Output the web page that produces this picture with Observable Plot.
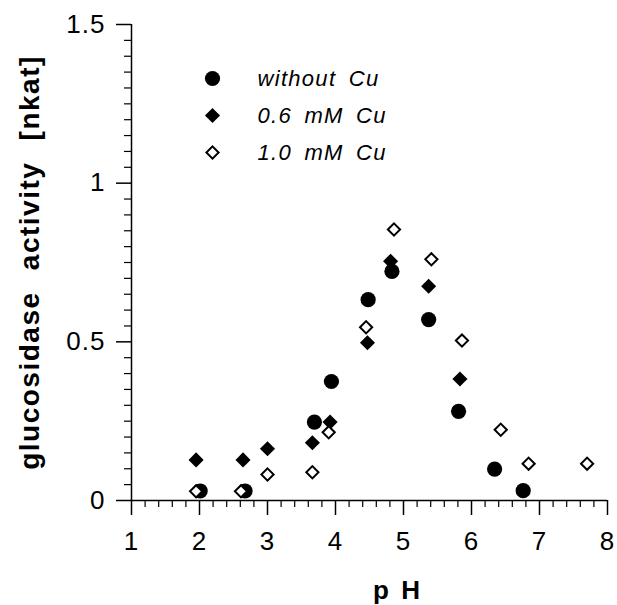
<!DOCTYPE html>
<html>
<head>
<meta charset="utf-8">
<script src="https://cdn.jsdelivr.net/npm/d3@7"></script>
<script src="https://cdn.jsdelivr.net/npm/@observablehq/plot@0.6"></script>
<style>
  html, body { margin: 0; padding: 0; background: #fff; }
  #chart svg { display: block; }
  #chart g[aria-label="x-axis tick label"] text,
  #chart g[aria-label="y-axis tick label"] text { letter-spacing: 1px; }
</style>
</head>
<body>
<div id="chart"></div>
<script>
// ---- data ----
const seriesNames = ["without Cu", "0.6 mM Cu", "1.0 mM Cu"];

const phNoCu  = [2.01, 2.67, 3.69, 3.94, 4.48, 4.83, 5.37, 5.81, 6.34, 6.76];
const actNoCu = [0.030, 0.030, 0.247, 0.375, 0.633, 0.722, 0.570, 0.281, 0.099, 0.031];

const ph06  = [1.95, 2.64, 3.00, 3.66, 3.92, 4.47, 4.81, 5.37, 5.83];
const act06 = [0.128, 0.128, 0.163, 0.182, 0.247, 0.497, 0.754, 0.675, 0.383];

const ph10  = [1.95, 2.61, 3.00, 3.66, 3.90, 4.45, 4.86, 5.41, 5.86, 6.43, 6.84, 7.70];
const act10 = [0.029, 0.029, 0.082, 0.089, 0.215, 0.546, 0.854, 0.760, 0.504, 0.223, 0.116, 0.116];

const xTicks = [1, 2, 3, 4, 5, 6, 7, 8];
const xTickLabels = ["1", "2", "3", "4", "5", "6", "7", "8"];
const yTicks = [0, 0.5, 1, 1.5];
const yTickLabels = ["0", "0.5", "1", "1.5"];

const xTitle = "p H";
const yTitle = "glucosidase activity [nkat]";

// ---- build ----
const zip = (xs, ys) => xs.map((x, i) => ({x, y: ys[i]}));
const dNoCu = zip(phNoCu, actNoCu);
const d06 = zip(ph06, act06);
const d10 = zip(ph10, act10);

const xMinor = d3.range(1, 8.0001, 0.2).map(v => +v.toFixed(2)).filter(v => Math.abs(v - Math.round(v)) > 1e-6);
const yMinor = d3.range(0, 1.5001, 0.05).map(v => +v.toFixed(2)).filter(v => Math.abs(v * 2 - Math.round(v * 2)) > 1e-6);

const font = "'Liberation Sans', Arial, Helvetica, sans-serif";

const symbolStyles = [
  {symbol: "circle", r: 7.6, fill: "black", stroke: "none", strokeWidth: 0},
  {symbol: "diamond2", r: 6.8, fill: "black", stroke: "none", strokeWidth: 0},
  {symbol: "diamond2", r: 5.5, fill: "white", stroke: "black", strokeWidth: 2}
];

const legendMarks = seriesNames.flatMap((name, i) => [
  Plot.dot([name], {frameAnchor: "top-left", dx: 81, dy: 54 + i * 37, ...symbolStyles[i]}),
  Plot.text([name], {frameAnchor: "top-left", dx: 126, dy: 54 + i * 37, text: d => d,
    textAnchor: "start", lineAnchor: "middle", fontSize: 22, fontStyle: "italic", fill: "black"})
]);

const chart = Plot.plot({
  width: 617,
  height: 605,
  marginLeft: 131,
  marginRight: 10,
  marginTop: 24,
  marginBottom: 105,
  style: {fontFamily: font, background: "white", color: "black", overflow: "visible"},
  x: {domain: [1, 8]},
  y: {domain: [0, 1.5]},
  marks: [
    // minor ticks
    Plot.axisX({ticks: xMinor, tickSize: 7, tickFormat: () => "", strokeWidth: 1.2, label: null}),
    Plot.axisY({ticks: yMinor, tickSize: 7, tickFormat: () => "", strokeWidth: 1.2, label: null}),
    // major ticks with labels
    Plot.axisX({ticks: xTicks, tickSize: 15, tickPadding: 16, strokeWidth: 1.5, fontSize: 26,
      tickFormat: d => xTickLabels[xTicks.indexOf(d)], label: null}),
    Plot.axisY({ticks: yTicks, tickSize: 15, tickPadding: 11, strokeWidth: 1.5, fontSize: 26,
      tickFormat: d => yTickLabels[yTicks.indexOf(d)], label: null}),
    // axis lines
    Plot.ruleY([0], {stroke: "black", strokeWidth: 1.5}),
    Plot.ruleX([1], {stroke: "black", strokeWidth: 1.5}),
    // data
    Plot.dot(dNoCu, {x: "x", y: "y", ...symbolStyles[0]}),
    Plot.dot(d06, {x: "x", y: "y", ...symbolStyles[1]}),
    Plot.dot(d10, {x: "x", y: "y", ...symbolStyles[2]}),
    // legend
    ...legendMarks,
    // axis titles
    Plot.text([xTitle], {frameAnchor: "bottom", dx: 28, dy: 90, text: d => d, textAnchor: "middle",
      lineAnchor: "middle", fontSize: 26, fontWeight: "bold", fill: "black"}),
    Plot.text([yTitle], {frameAnchor: "left", dx: -101, text: d => d, rotate: -90, textAnchor: "middle",
      lineAnchor: "middle", fontSize: 28, fontWeight: "bold", fill: "black"})
  ]
});

// text spacing to match the reference's wide letter/word spacing
d3.select(chart).selectAll("g[aria-label='text'] text").each(function () {
  const t = this.textContent;
  if (t === yTitle) { this.style.letterSpacing = "1.5px"; this.style.wordSpacing = "12px"; }
  else if (t === xTitle) { this.style.letterSpacing = "2px"; this.style.wordSpacing = "1px"; }
  else if (seriesNames.includes(t)) { this.style.letterSpacing = "1.3px"; this.style.wordSpacing = "5px"; }
});

document.getElementById("chart").append(chart);
</script>
</body>
</html>
